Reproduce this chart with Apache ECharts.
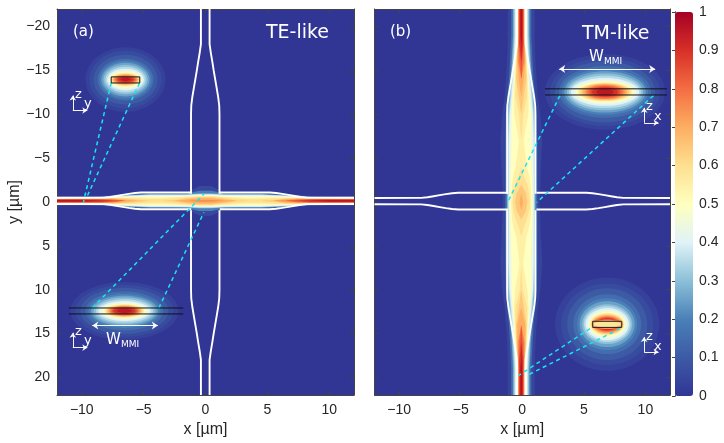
<!DOCTYPE html>
<html>
<head>
<meta charset="utf-8">
<style>html,body{margin:0;padding:0;background:#fff}#main{width:724px;height:443px}</style>
<script src="https://cdn.jsdelivr.net/npm/echarts@6/dist/echarts.min.js"></script>
</head>
<body>
<div id="main"></div>
<script>
// tick labels
var xTicks = [-10, -5, 0, 5, 10];
var yTicks = [-20, -15, -10, -5, 0, 5, 10, 15, 20];
var colorStops = ['#313695', '#3d5aa5', '#4a80b8', '#8cc0d8', '#e0f3f8', '#ffffbf', '#fee090', '#fdae61', '#f46d43', '#d73027', '#a50026'];

// (a) TE-like: half width of each intensity level along the horizontal guide
var teStations = [-12, -10, -8.5, -7.5, -6.5, -5.5, -4.5, -3.5, -2.5, -1.5, -0.5, 0.5, 1.5, 2.5, 3.5, 4.5, 5.5, 6.5, 7.5, 8.5, 10, 12];
var teLevels = [0.05, 0.2, 0.3, 0.35, 0.4, 0.45, 0.5, 0.55, 0.6, 0.65, 0.7, 0.75, 0.8, 0.85, 0.9, 0.97];
var teHalf = [
    [.55, .55, .58, .68, .80, .88, .9, .9, .9, .95, 1.7, 1.7, .95, .9, .9, .9, .88, .8, .68, .58, .55, .55],
    [.47, .47, .5, .58, .68, .76, .8, .8, .8, .85, 1.15, 1.15, .85, .8, .8, .8, .76, .68, .58, .5, .47, .47],
    [.42, .42, .45, .52, .62, .68, .74, .74, .74, .76, .85, .85, .76, .74, .74, .74, .68, .62, .52, .45, .42, .42],
    [.395, .395, .425, .49, .58, .64, .70, .70, .70, .71, .78, .78, .71, .70, .70, .70, .64, .58, .49, .425, .395, .395],
    [.37, .37, .40, .46, .54, .6, .66, .66, .66, .67, .72, .72, .67, .66, .66, .66, .6, .54, .46, .40, .37, .37],
    [.345, .345, .37, .43, .5, .55, .58, .58, .58, .6, .66, .66, .6, .58, .58, .58, .55, .5, .43, .37, .345, .345],
    [.32, .32, .34, .39, .44, .5, .52, .52, .54, .56, .6, .6, .56, .54, .52, .52, .5, .44, .39, .34, .32, .32],
    [.295, .295, .315, .35, .38, .42, .38, .38, .44, .5, .55, .55, .48, .42, .36, .38, .42, .38, .35, .315, .295, .295],
    [.27, .27, .29, .32, .32, .3, .2, .2, .3, .42, .5, .5, .4, .28, .18, .2, .3, .32, .32, .29, .27, .27],
    [.25, .25, .265, .29, .24, .12, 0, 0, .08, .3, .42, .42, .28, .05, 0, 0, .1, .26, .29, .265, .25, .25],
    [.23, .23, .24, .25, .14, 0, 0, 0, 0, .16, .3, .3, .14, 0, 0, 0, 0, .18, .25, .24, .23, .23],
    [.205, .205, .21, .2, 0, 0, 0, 0, 0, 0, .1, .1, 0, 0, 0, 0, 0, .06, .2, .21, .205, .205],
    [.18, .18, .18, .14, 0, 0, 0, 0, 0, 0, 0, 0, 0, 0, 0, 0, 0, 0, .14, .18, .18, .18],
    [.15, .15, .15, .08, 0, 0, 0, 0, 0, 0, 0, 0, 0, 0, 0, 0, 0, 0, .08, .15, .15, .15],
    [.12, .12, .1, 0, 0, 0, 0, 0, 0, 0, 0, 0, 0, 0, 0, 0, 0, 0, 0, .1, .12, .12],
    [.06, .06, 0, 0, 0, 0, 0, 0, 0, 0, 0, 0, 0, 0, 0, 0, 0, 0, 0, 0, .06, .06]
];

// (b) TM-like: same thing along the vertical guide
var tmStations = [-22, -19, -18, -16, -14, -12, -10, -7, -4, -3, -2, -1, 0, 1, 2, 3, 4, 7, 10, 12, 14, 16, 18, 19, 22];
var tmLevels = [0.04, 0.15, 0.25, 0.3, 0.35, 0.4, 0.45, 0.5, 0.55, 0.6, 0.65, 0.7, 0.75, 0.8, 0.85, 0.9, 0.97];
var tmHalf = [
    [1.1, 1.1, 1.1, 1.15, 1.25, 1.35, 1.55, 1.7, 1.6, 1.58, 1.55, 1.52, 1.5, 1.52, 1.55, 1.58, 1.6, 1.7, 1.55, 1.35, 1.25, 1.15, 1.1, 1.1, 1.1],
    [.82, .82, .85, .92, 1.0, 1.15, 1.25, 1.3, 1.3, 1.3, 1.3, 1.3, 1.3, 1.3, 1.3, 1.3, 1.3, 1.3, 1.25, 1.15, 1.0, .92, .85, .82, .82],
    [.68, .68, .71, .78, .88, 1.0, 1.12, 1.17, 1.17, 1.17, 1.17, 1.17, 1.17, 1.17, 1.17, 1.17, 1.17, 1.17, 1.12, 1.0, .88, .78, .71, .68, .68],
    [.62, .62, .65, .72, .82, .95, 1.07, 1.12, 1.12, 1.12, 1.12, 1.12, 1.12, 1.12, 1.12, 1.12, 1.12, 1.12, 1.07, .95, .82, .72, .65, .62, .62],
    [.56, .56, .59, .66, .76, .89, 1.01, 1.07, 1.07, 1.07, 1.07, 1.07, 1.07, 1.07, 1.07, 1.07, 1.07, 1.07, 1.01, .89, .76, .66, .59, .56, .56],
    [.5, .5, .53, .6, .7, .82, .95, 1.02, 1.02, 1.02, 1.02, 1.02, 1.02, 1.02, 1.02, 1.02, 1.02, 1.02, .95, .82, .7, .6, .53, .5, .5],
    [.46, .46, .48, .55, .64, .75, .87, .92, .95, .97, .98, .98, .98, .98, .98, .97, .95, .92, .87, .75, .64, .55, .48, .46, .46],
    [.42, .42, .44, .5, .58, .68, .78, .78, .82, .86, .88, .9, .9, .9, .88, .86, .82, .78, .78, .68, .58, .5, .44, .42, .42],
    [.37, .37, .4, .46, .52, .6, .58, .2, .45, .65, .75, .8, .82, .8, .75, .62, .42, .15, .5, .6, .52, .46, .4, .37, .37],
    [.33, .33, .36, .41, .47, .48, .18, 0, 0, .2, .5, .65, .7, .65, .45, .18, 0, 0, .12, .48, .47, .41, .36, .33, .33],
    [.29, .29, .32, .37, .41, .2, 0, 0, 0, 0, 0, .38, .5, .38, 0, 0, 0, 0, 0, .2, .42, .37, .32, .29, .29],
    [.26, .26, .28, .33, .2, 0, 0, 0, 0, 0, 0, 0, .15, 0, 0, 0, 0, 0, 0, 0, .32, .33, .28, .26, .26],
    [.23, .23, .25, .27, 0, 0, 0, 0, 0, 0, 0, 0, 0, 0, 0, 0, 0, 0, 0, 0, 0, .27, .25, .23, .23],
    [.2, .2, .22, .18, 0, 0, 0, 0, 0, 0, 0, 0, 0, 0, 0, 0, 0, 0, 0, 0, 0, .2, .22, .2, .2],
    [.17, .17, .18, .06, 0, 0, 0, 0, 0, 0, 0, 0, 0, 0, 0, 0, 0, 0, 0, 0, 0, .08, .18, .17, .17],
    [.14, .14, .14, 0, 0, 0, 0, 0, 0, 0, 0, 0, 0, 0, 0, 0, 0, 0, 0, 0, 0, 0, .14, .14, .14],
    [.07, .07, .02, 0, 0, 0, 0, 0, 0, 0, 0, 0, 0, 0, 0, 0, 0, 0, 0, 0, 0, 0, .02, .07, .07]
];

// inset mode profiles: level, radius in x, radius in y [um]
var ringLevels = [0.03, 0.06, 0.1, 0.15, 0.2, 0.25, 0.3, 0.35, 0.4, 0.45, 0.5, 0.55, 0.6, 0.65, 0.7, 0.75, 0.8, 0.85, 0.9, 0.95];
var teTopCentre = [-6.46, -13.95];
var teTopRx = [3.23, 2.91, 2.58, 2.26, 2.10, 1.94, 1.78, 1.63, 1.49, 1.37, 1.25, 1.19, 1.13, 1.07, 1.01, .93, .85, .75, .65, .42];
var teTopRy = [3.69, 3.29, 2.84, 2.38, 2.16, 1.93, 1.70, 1.47, 1.25, 1.07, .91, .82, .74, .65, .57, .50, .43, .35, .28, .18];
var teBotCentre = [-6.55, 12.42];
var teBotRx = [4.36, 3.96, 3.55, 3.15, 2.91, 2.70, 2.50, 2.30, 2.10, 1.92, 1.74, 1.63, 1.53, 1.43, 1.33, 1.23, 1.13, 1.01, .89, .6];
var teBotRy = [3.29, 2.95, 2.61, 2.21, 1.93, 1.73, 1.53, 1.33, 1.14, .99, .85, .78, .72, .65, .59, .53, .48, .41, .34, .22];
var tmTopCentre = [6.72, -12.55];
var tmTopRx = [4.88, 4.47, 4.07, 3.74, 3.50, 3.30, 3.09, 2.92, 2.76, 2.56, 2.36, 2.23, 2.11, 1.95, 1.79, 1.62, 1.46, 1.26, 1.06, .7];
var tmTopRy = [4.31, 3.86, 3.46, 2.95, 2.61, 2.35, 2.10, 1.84, 1.59, 1.39, 1.19, 1.10, 1.02, .95, .89, .81, .74, .62, .51, .32];
var tmBotCentre = [6.9, 13.93];
var tmBotLevels = [0.03, 0.06, 0.1, 0.15, 0.2, 0.25, 0.3, 0.35, 0.4, 0.45, 0.5, 0.55, 0.6, 0.65, 0.7, 0.75, 0.8, 0.85, 0.9, 0.75, 0.65, 0.58];
var tmBotRx = [4.23, 3.74, 3.25, 2.76, 2.44, 2.23, 2.03, 1.89, 1.75, 1.60, 1.46, 1.40, 1.34, 1.28, 1.22, 1.14, 1.06, .93, .81, 1.25, 1.18, 1.1];
var tmBotRy = [5.33, 4.65, 4.09, 3.41, 2.95, 2.61, 2.27, 2.04, 1.82, 1.62, 1.42, 1.30, 1.19, 1.10, 1.02, .93, .85, .76, .68, .55, .42, .3];

// waveguide outline: half width against distance from the crossing
var vertPos = [0.95, 10, 11, 12, 13, 14, 15, 16, 17, 18, 22];
var vertHalf = [1.15, 1.15, 1.13, 1.04, .92, .80, .68, .57, .45, .35, .35];
var horzPos = [1.15, 5.2, 5.7, 6.2, 6.7, 7.2, 7.7, 8.2, 12];
var horzHalf = [.95, .95, .9, .8, .68, .56, .44, .37, .35];

// dashed links [x0, y0, x1, y1]
var teLinks = [[-7.62, -13.57, -9.88, 0.13], [-5.33, -13.57, -9.55, -0.7], [-9.15, 12.08, -0.13, -0.9], [-3.77, 12.08, -0.13, 1.18]];
var tmLinks = [[3.06, -12.13, -1.19, 0.05], [10.65, -12.13, 1.17, 0.05], [5.5, 14.43, -0.32, 19.8], [7.94, 14.43, 0.35, 19.8]];

// black outlines of the guide in the insets [x0, x1, y0, y1]
var teBoxes = [[-7.62, -5.31, -14.26, -13.57]];
var tmBoxes = [[5.72, 8.08, 13.6, 14.3]];
var teRails = [[-11.04, -1.8, 12.08, 12.76]];
var tmRails = [[1.85, 11.74, -12.9, -12.2]];

// double arrows and small axis crosses [x0, y0, x1, y1]
var teWidthArrow = [-9.15, 14.09, -3.85, 14.09];
var tmWidthArrow = [3.0, -15.17, 10.8, -15.17];
var teCrosses = [[-10.72, -10.43], [-10.72, 16.6]];
var tmCrosses = [[9.9, -9.03], [9.9, 17.1]];

var tickFont = 'Liberation Sans';
var labelFont = 'DejaVu Sans';
var axisColor = '#444';

function tickText(v) {
    return String(v).replace('-', '\u2212');
}

function bandItem(band, i, api, shapeColor) {
    var pts = [], k, hw = band.half[i], n = band.stations.length;
    for (k = 0; k < n; k++) {
        pts.push(api.coord(band.vertical ? [band.centre + hw[k], band.stations[k]] : [band.stations[k], band.centre + hw[k]]));
    }
    for (k = n - 1; k >= 0; k--) {
        pts.push(api.coord(band.vertical ? [band.centre - hw[k], band.stations[k]] : [band.stations[k], band.centre - hw[k]]));
    }
    return {type: 'polygon', shape: {points: pts}, style: {fill: shapeColor}};
}

function bandSeries(gridIndex, band) {
    return {
        type: 'custom',
        xAxisIndex: gridIndex === 0 ? 0 : 2,
        yAxisIndex: gridIndex === 0 ? 0 : 2,
        silent: true,
        clip: true,
        encode: {x: 0, y: 1},
        data: band.levels.map(function (l, i) { return [l, i]; }),
        renderItem: function (params, api) {
            return bandItem(band, api.value(1), api, api.visual('color'));
        }
    };
}

function ringSeries(gridIndex, centre, levels, rx, ry) {
    return {
        type: 'custom',
        xAxisIndex: gridIndex === 0 ? 0 : 2,
        yAxisIndex: gridIndex === 0 ? 0 : 2,
        silent: true,
        clip: true,
        encode: {x: 1, y: 2},
        data: levels.map(function (l, i) { return [l, centre[0], centre[1], rx[i], ry[i]]; }),
        renderItem: function (params, api) {
            var c = api.coord([api.value(1), api.value(2)]);
            var s = api.size([api.value(3), api.value(4)], [api.value(1), api.value(2)]);
            return {type: 'ellipse', shape: {cx: c[0], cy: c[1], rx: s[0], ry: s[1]}, style: {fill: api.visual('color')}};
        }
    };
}

function lineSeries(gridIndex, pts, color, width, dash) {
    return {
        type: 'line',
        xAxisIndex: gridIndex === 0 ? 0 : 2,
        yAxisIndex: gridIndex === 0 ? 0 : 2,
        data: pts,
        showSymbol: false,
        silent: true,
        animation: false,
        lineStyle: {color: color, width: width, type: dash || 'solid'},
        z: 3
    };
}

function outlines(gridIndex, cx, cy) {
    var out = [];
    [-1, 1].forEach(function (sy) {
        [-1, 1].forEach(function (sx) {
            out.push(lineSeries(gridIndex, vertPos.map(function (p, i) { return [cx + sx * vertHalf[i], sy * p]; }), '#fff', 1.9));
            out.push(lineSeries(gridIndex, horzPos.map(function (p, i) { return [sx * p, cy + sy * horzHalf[i]]; }), '#fff', 1.9));
        });
    });
    return out;
}

function arrowSeries(gridIndex, segments, symbols, size) {
    return {
        type: 'line',
        xAxisIndex: gridIndex === 0 ? 0 : 2,
        yAxisIndex: gridIndex === 0 ? 0 : 2,
        data: [],
        silent: true,
        animation: false,
        z: 4,
        markLine: {
            silent: true,
            animation: false,
            symbol: symbols,
            symbolSize: size,
            label: {show: false},
            lineStyle: {color: '#fff', width: 1, type: 'solid', opacity: 0.95},
            data: segments.map(function (s) { return [{coord: [s[0], s[1]]}, {coord: [s[2], s[3]]}]; })
        }
    };
}

function crossSegments(crosses) {
    var out = [];
    crosses.forEach(function (c) {
        out.push([c[0], c[1], c[0], c[1] - 1.7]);
        out.push([c[0], c[1], c[0] + 1.17, c[1]]);
    });
    return out;
}

function boxPath(b) {
    return [[b[0], b[2]], [b[1], b[2]], [b[1], b[3]], [b[0], b[3]], [b[0], b[2]]];
}

function axisPair(gridIndex) {
    return {
        x: [
            {gridIndex: gridIndex, type: 'value', min: -12, max: 12, position: 'bottom',
                name: 'x [\u00b5m]', nameLocation: 'middle', nameGap: 27,
                nameTextStyle: {fontFamily: tickFont, fontSize: 16, color: '#262626'},
                splitLine: {show: false},
                axisLine: {onZero: false, lineStyle: {color: axisColor}},
                axisTick: {inside: true, length: 4, customValues: xTicks, lineStyle: {color: axisColor}},
                axisLabel: {customValues: xTicks, formatter: tickText, fontFamily: tickFont, fontSize: 14, color: '#262626', margin: 8}},
            {gridIndex: gridIndex, type: 'value', min: -12, max: 12, position: 'top',
                splitLine: {show: false},
                axisLine: {onZero: false, lineStyle: {color: axisColor}},
                axisTick: {inside: true, length: 4, customValues: xTicks, lineStyle: {color: axisColor}},
                axisLabel: {show: false}}
        ],
        y: [
            {gridIndex: gridIndex, type: 'value', min: -22, max: 22, inverse: true, position: 'left',
                name: gridIndex === 0 ? 'y [\u00b5m]' : '', nameLocation: 'middle', nameGap: 34,
                nameTextStyle: {fontFamily: tickFont, fontSize: 16, color: '#262626'},
                splitLine: {show: false},
                axisLine: {onZero: false, lineStyle: {color: axisColor}},
                axisTick: {inside: true, length: 4, customValues: yTicks, lineStyle: {color: axisColor}},
                axisLabel: {show: gridIndex === 0, customValues: yTicks, formatter: tickText, fontFamily: tickFont, fontSize: 14, color: '#262626', margin: 7}},
            {gridIndex: gridIndex, type: 'value', min: -22, max: 22, inverse: true, position: 'right',
                splitLine: {show: false},
                axisLine: {onZero: false, lineStyle: {color: axisColor}},
                axisTick: {inside: true, length: 4, customValues: yTicks, lineStyle: {color: axisColor}},
                axisLabel: {show: false}}
        ]
    };
}

function label(text, x, y, size, font) {
    return {
        type: 'text', x: x, y: y, z: 100, silent: true,
        style: {text: text, fontSize: size, fontFamily: font || labelFont, fill: '#fff', textVerticalAlign: 'middle'}
    };
}

var fieldSeries = [
    bandSeries(0, {stations: teStations, levels: teLevels, half: teHalf, centre: -0.13, vertical: false}),
    bandSeries(1, {stations: tmStations, levels: tmLevels, half: tmHalf, centre: -0.08, vertical: true}),
    ringSeries(0, teTopCentre, ringLevels, teTopRx, teTopRy),
    ringSeries(0, teBotCentre, ringLevels, teBotRx, teBotRy),
    ringSeries(1, tmTopCentre, ringLevels, tmTopRx, tmTopRy),
    ringSeries(1, tmBotCentre, tmBotLevels, tmBotRx, tmBotRy)
];

var series = fieldSeries.slice();
series = series.concat(outlines(0, -0.02, -0.13), outlines(1, -0.08, -0.1));
teLinks.forEach(function (l) { series.push(lineSeries(0, [[l[0], l[1]], [l[2], l[3]]], '#19e3f0', 1.5, [4, 3.5])); });
tmLinks.forEach(function (l) { series.push(lineSeries(1, [[l[0], l[1]], [l[2], l[3]]], '#19e3f0', 1.5, [4, 3.5])); });
teBoxes.forEach(function (b) { series.push(lineSeries(0, boxPath(b), '#111', 1)); });
tmBoxes.forEach(function (b) { series.push(lineSeries(1, boxPath(b), '#222', 1)); });
teRails.forEach(function (b) {
    series.push(lineSeries(0, [[b[0], b[2]], [b[1], b[2]]], '#111', 1));
    series.push(lineSeries(0, [[b[0], b[3]], [b[1], b[3]]], '#111', 1));
});
tmRails.forEach(function (b) {
    series.push(lineSeries(1, [[b[0], b[2]], [b[1], b[2]]], '#111', 1));
    series.push(lineSeries(1, [[b[0], b[3]], [b[1], b[3]]], '#111', 1));
});
series.push(arrowSeries(0, [teWidthArrow], ['arrow', 'arrow'], 6));
series.push(arrowSeries(1, [tmWidthArrow], ['arrow', 'arrow'], 6));
series.push(arrowSeries(0, crossSegments(teCrosses), ['none', 'arrow'], 5));
series.push(arrowSeries(1, crossSegments(tmCrosses), ['none', 'arrow'], 5));

var a0 = axisPair(0), a1 = axisPair(1);

var chart = echarts.init(document.getElementById('main'), null, {renderer: 'canvas'});
chart.setOption({
    animation: false,
    backgroundColor: '#fff',
    grid: [
        {left: 57, top: 9, width: 297, height: 388, backgroundColor: '#313695', show: true, borderWidth: 0},
        {left: 374.5, top: 9, width: 295.5, height: 388, backgroundColor: '#313695', show: true, borderWidth: 0},
        {left: 675, top: 12, width: 18, height: 384}
    ],
    xAxis: a0.x.concat(a1.x, [{gridIndex: 2, type: 'value', min: 0, max: 1, show: false}]),
    yAxis: a0.y.concat(a1.y, [{
        gridIndex: 2, type: 'value', min: 0, max: 1, interval: 0.1, position: 'right',
        splitLine: {show: false},
        axisLine: {lineStyle: {color: axisColor}},
        axisTick: {inside: true, length: 3, lineStyle: {color: axisColor}},
        axisLabel: {fontFamily: tickFont, fontSize: 14, color: '#262626', margin: 6}
    }, {
        gridIndex: 2, type: 'value', min: 0, max: 1, position: 'left',
        splitLine: {show: false},
        axisLine: {lineStyle: {color: axisColor}},
        axisTick: {show: false},
        axisLabel: {show: false}
    }]),
    visualMap: {
        type: 'continuous',
        min: 0,
        max: 1,
        dimension: 0,
        seriesIndex: fieldSeries.map(function (s, i) { return i; }),
        calculable: false,
        hoverLink: false,
        realtime: false,
        left: 675,
        top: 12,
        padding: 0,
        itemWidth: 18,
        itemHeight: 384,
        text: null,
        inRange: {color: colorStops}
    },
    series: series,
    graphic: [
        label('(a)', 73, 32, 15),
        label('TE-like', 266, 33, 19),
        label('(b)', 390, 32, 15),
        label('TM-like', 582, 34, 19),
        label('W', 106, 340, 15),
        label('MMI', 121, 345, 9),
        label('W', 589, 57, 15),
        label('MMI', 604, 62, 9),
        label('z', 75, 95, 13),
        label('y', 84, 104, 13),
        label('z', 75, 332, 13),
        label('y', 84, 341, 13),
        label('z', 646, 107, 13),
        label('x', 654, 117, 13),
        label('z', 646, 337, 13),
        label('x', 654, 347, 13)
    ]
});
</script>
</body>
</html>
